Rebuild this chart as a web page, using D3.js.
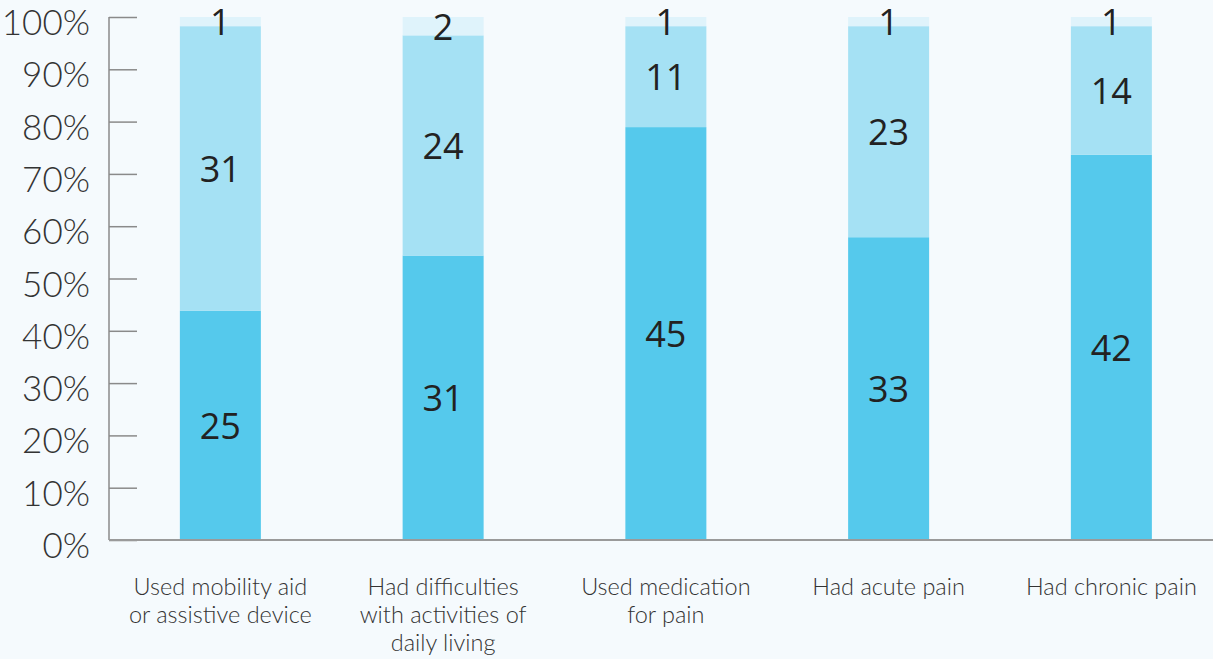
<!DOCTYPE html>
<html>
<head>
<meta charset="utf-8">
<script src="https://cdn.jsdelivr.net/npm/d3@7"></script>
<style>
  html, body { margin: 0; padding: 0; background: #f5fafd; }
  svg { display: block; }
</style>
</head>
<body>
<svg id="chart" width="1213" height="659"></svg>
<script>
const categories = [
  ["Used mobility aid", "or assistive device"],
  ["Had difficulties", "with activities of", "daily living"],
  ["Used medication", "for pain"],
  ["Had acute pain"],
  ["Had chronic pain"]
];
const seriesNames = ["bottom", "middle", "top"];
const bottomValues = [25, 31, 45, 33, 42];
const middleValues = [31, 24, 11, 23, 14];
const topValues = [1, 2, 1, 1, 1];
const yTicks = [0, 0.1, 0.2, 0.3, 0.4, 0.5, 0.6, 0.7, 0.8, 0.9, 1.0];
const colors = ["#55c9ec", "#a5e1f4", "#dff3fb"];

const rows = categories.map((c, i) => ({
  idx: i,
  bottom: bottomValues[i],
  middle: middleValues[i],
  top: topValues[i]
}));

const svg = d3.select("#chart");
const W = 1213, H = 659;
const x0 = 109, yTop = 17, yBot = 540;
const step = 222.75;

const x = d3.scaleBand()
  .domain(rows.map(d => d.idx))
  .range([x0, x0 + step * categories.length])
  .paddingInner(1 - 81 / step)
  .paddingOuter((1 - 81 / step) / 2);

const y = d3.scaleLinear().domain([0, 1]).range([yBot, yTop]);

const stack = d3.stack().keys(seriesNames).offset(d3.stackOffsetExpand);
const stacked = stack(rows);

// bars
const layers = svg.append("g").selectAll("g")
  .data(stacked)
  .join("g")
  .attr("fill", (d, i) => colors[i]);

layers.selectAll("rect")
  .data(d => d)
  .join("rect")
  .attr("x", d => x(d.data.idx))
  .attr("width", x.bandwidth())
  .attr("y", d => y(d[1]))
  .attr("height", d => y(d[0]) - y(d[1]));

// y axis
const axisG = svg.append("g").attr("transform", `translate(${x0},0)`);
const axis = d3.axisRight(y)
  .tickValues(yTicks)
  .tickSize(28)
  .tickFormat("");
axisG.call(axis);
axisG.select(".domain").remove();
axisG.selectAll(".tick line").attr("stroke", "#8a8a8a").attr("stroke-width", 1.5);
axisG.append("line")
  .attr("x1", 0).attr("x2", 0)
  .attr("y1", yTop).attr("y2", yBot)
  .attr("stroke", "#8a8a8a").attr("stroke-width", 1.5);

// baseline
svg.append("line")
  .attr("x1", x0).attr("x2", W)
  .attr("y1", yBot).attr("y2", yBot)
  .attr("stroke", "#9a9a9a").attr("stroke-width", 2);

// tick labels
svg.append("g").selectAll("text")
  .data(yTicks)
  .join("text")
  .attr("x", 90)
  .attr("y", d => y(d) + 18)
  .attr("text-anchor", "end")
  .attr("font-family", "Lato, sans-serif")
  .attr("font-weight", 300)
  .attr("font-size", 35)
  .attr("fill", "#333")
  .text(d => d3.format(".0%")(d));

// segment labels
layers.selectAll("text")
  .data(d => d)
  .join("text")
  .attr("x", d => x(d.data.idx) + x.bandwidth() / 2)
  .attr("y", d => (y(d[0]) + y(d[1])) / 2 + 13.5)
  .attr("text-anchor", "middle")
  .attr("font-family", "'Open Sans', sans-serif")
  .attr("font-size", 36)
  .attr("fill", "#222")
  .text(function(d) {
    const key = d3.select(this.parentNode).datum().key;
    return d.data[key];
  });

// category labels
const catG = svg.append("g").selectAll("text")
  .data(rows)
  .join("text")
  .attr("x", d => x(d.idx) + x.bandwidth() / 2)
  .attr("y", 595)
  .attr("text-anchor", "middle")
  .attr("font-family", "Lato, sans-serif")
  .attr("font-weight", 300)
  .attr("font-size", 23.5)
  .attr("fill", "#333");

catG.selectAll("tspan")
  .data(d => categories[d.idx])
  .join("tspan")
  .attr("x", function() { return d3.select(this.parentNode).attr("x"); })
  .attr("dy", (d, i) => i === 0 ? 0 : 28)
  .text(d => d);
</script>
</body>
</html>
